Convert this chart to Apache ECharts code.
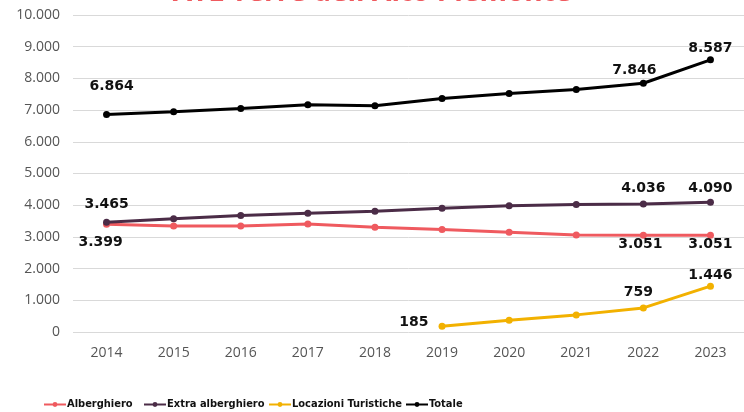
<!DOCTYPE html>
<html>
<head>
<meta charset="utf-8">
<title>ATL Terre dell'Alto Piemonte</title>
<script src="https://cdn.jsdelivr.net/npm/echarts@6/dist/echarts.min.js"></script>
<style>
  html, body { margin: 0; padding: 0; background: #fff; }
  #chart { width: 744px; height: 412px; }
</style>
</head>
<body>
<div id="chart"></div>
<script>
// anni e valori
const years = ['2014', '2015', '2016', '2017', '2018', '2019', '2020', '2021', '2022', '2023']
const alberghiero = [3399, 3340, 3340, 3410, 3305, 3232, 3150, 3062, 3051, 3051]
const extraAlberghiero = [3465, 3570, 3676, 3748, 3812, 3906, 3980, 4022, 4036, 4090]
const locazioni = [null, null, null, null, null, 185, 370, 540, 759, 1446]
const totale = [6864, 6950, 7050, 7167, 7138, 7368, 7522, 7652, 7846, 8587]
const seriesNames = ['Alberghiero', 'Extra alberghiero', 'Locazioni Turistiche', 'Totale']

const fontMain = '"Open Sans", "Noto Sans", sans-serif'
const fontLabel = '"DejaVu Sans", sans-serif'
const fontLegend = '"DejaVu Sans Condensed", sans-serif'

function fmt(v) {
  return String(Math.round(v)).replace(/\B(?=(\d{3})+(?!\d))/g, '.')
}

// etichette mostrate solo su alcuni punti
function pickLabels(values, shown) {
  return values.map((v, i) => {
    if (!shown[i]) return v
    return { value: v, label: Object.assign({ show: true }, shown[i]) }
  })
}

const labelBase = {
  show: false,
  color: '#111',
  fontFamily: fontLabel,
  fontWeight: 'bold',
  fontSize: 14,
  formatter: p => fmt(p.value)
}

function lineSeries(name, color, data) {
  return {
    name: name,
    type: 'line',
    data: data,
    symbol: 'circle',
    symbolSize: 7,
    showAllSymbol: true,
    connectNulls: false,
    lineStyle: { color: color, width: 3 },
    itemStyle: { color: color },
    label: labelBase,
    emphasis: { disabled: true },
    animation: false
  }
}

// una legenda per voce, per posizionarle come nell'originale
const legendLeft = [43, 143, 268, 405]
const legends = seriesNames.map((n, i) => ({
  data: [n],
  left: legendLeft[i],
  top: 399,
  padding: 0,
  itemWidth: 22,
  itemHeight: 6,
  textStyle: {
    color: '#111',
    fontFamily: fontLegend,
    fontWeight: 'bold',
    fontSize: 11,
    padding: [0, 0, 0, -4]
  }
}))

const chart = echarts.init(document.getElementById('chart'))

chart.setOption({
  backgroundColor: '#fff',
  title: {
    text: "ATL Terre dell'Alto Piemonte",
    left: 'center',
    top: -26,
    textStyle: { color: '#ef5a5f', fontFamily: fontMain, fontWeight: 'bold', fontSize: 28 }
  },
  legend: legends,
  grid: { left: 73, right: 0, top: 15, bottom: 80 },
  xAxis: {
    type: 'category',
    data: years,
    boundaryGap: true,
    axisLine: { show: false },
    axisTick: { show: false },
    axisLabel: { color: '#555', fontFamily: fontMain, fontSize: 14, margin: 14 }
  },
  yAxis: {
    type: 'value',
    min: 0,
    max: 10000,
    interval: 1000,
    axisLine: { show: false },
    axisTick: { show: false },
    splitLine: { lineStyle: { color: '#d9d9d9', width: 1 } },
    axisLabel: { color: '#555', fontFamily: fontMain, fontSize: 14, margin: 13, formatter: v => fmt(v) }
  },
  series: [
    lineSeries(seriesNames[0], '#ef5a5f', pickLabels(alberghiero, {
      0: { position: 'bottom', distance: 8, offset: [-6, 0] },
      8: { position: 'bottom', distance: -1, offset: [-3, 0] },
      9: { position: 'bottom', distance: -1 }
    })),
    lineSeries(seriesNames[1], '#4b2c47', pickLabels(extraAlberghiero, {
      0: { position: 'top', distance: 7 },
      8: { position: 'top', distance: 5 },
      9: { position: 'top', distance: 3 }
    })),
    lineSeries(seriesNames[2], '#f2b100', pickLabels(locazioni, {
      5: { position: 'left', distance: 10, offset: [0, -4] },
      8: { position: 'top', distance: 5, offset: [-5, 0] },
      9: { position: 'top', distance: 0 }
    })),
    lineSeries(seriesNames[3], '#000', pickLabels(totale, {
      0: { position: 'top', distance: 18, offset: [5, 0] },
      8: { position: 'top', distance: 2, offset: [-9, 0] },
      9: { position: 'top', distance: 1 }
    }))
  ]
})
</script>
</body>
</html>
